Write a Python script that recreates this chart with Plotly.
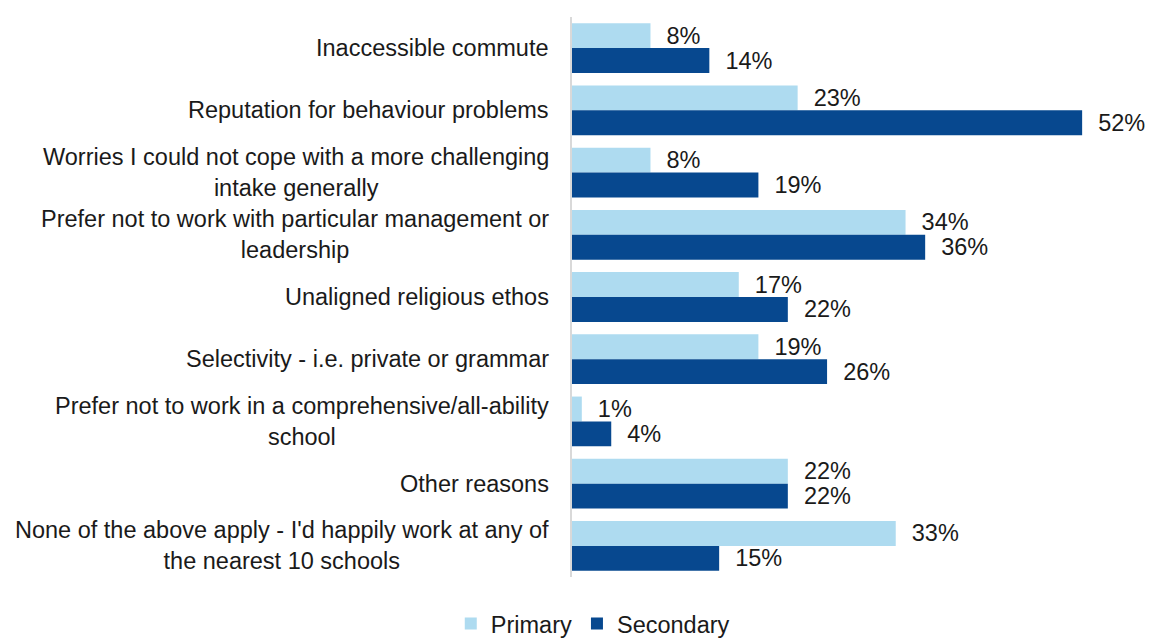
import plotly.graph_objects as go

# Reasons for not wanting to work at nearby schools (share of respondents, %)
categories = [
    "Inaccessible commute",
    "Reputation for behaviour problems",
    "Worries I could not cope with a more challenging<br>intake generally",
    "Prefer not to work with particular management or<br>leadership",
    "Unaligned religious ethos",
    "Selectivity - i.e. private or grammar",
    "Prefer not to work in a comprehensive/all-ability<br>school",
    "Other reasons",
    "None of the above apply - I'd happily work at any of<br>the nearest 10 schools",
]
primary = [8, 23, 8, 34, 17, 19, 1, 22, 33]
secondary = [14, 52, 19, 36, 22, 26, 4, 22, 15]

FONT = "Liberation Sans, Arial, sans-serif"
FONT_SIZE = 23.5
TEXT_COLOR = "#1a1a1a"
NBSP = "\u00a0"

fig = go.Figure()
for name, values, color in [
    ("Primary", primary, "#AEDBF0"),
    ("Secondary", secondary, "#07488F"),
]:
    fig.add_trace(go.Bar(
        name=name,
        y=categories,
        x=values,
        orientation="h",
        marker=dict(color=color, line=dict(width=0)),
        text=[f"{NBSP * 2}{v}%" for v in values],
        textposition="outside",
        constraintext="none",
        cliponaxis=False,
        textfont=dict(family=FONT, size=FONT_SIZE, color=TEXT_COLOR),
        hoverinfo="skip",
    ))

# Category labels, centred line by line and right-aligned against the axis
for cat in categories:
    fig.add_annotation(
        x=0, xref="paper", xanchor="right", xshift=-21,
        y=cat, yref="y", yanchor="middle",
        text=cat, showarrow=False, align="center",
        font=dict(family=FONT, size=FONT_SIZE, color=TEXT_COLOR),
    )

fig.update_layout(
    width=1151, height=639,
    margin=dict(l=572, r=10, t=17, b=62),
    barmode="group",
    bargap=0.2,
    bargroupgap=0,
    plot_bgcolor="white",
    paper_bgcolor="white",
    font=dict(family=FONT, size=FONT_SIZE, color=TEXT_COLOR),
    showlegend=True,
    legend=dict(
        orientation="h",
        xref="container", yref="container",
        x=0.515, xanchor="center",
        y=0.024, yanchor="middle",
        font=dict(family=FONT, size=FONT_SIZE, color=TEXT_COLOR),
        itemwidth=30,
        tracegroupgap=0,
    ),
    xaxis=dict(
        range=[0, 58],
        showgrid=False, zeroline=False, showticklabels=False,
        showline=False, ticks="",
    ),
    yaxis=dict(
        autorange="reversed",
        showgrid=False, zeroline=False,
        showticklabels=False, ticks="",
        showline=True, linecolor="#d9d9d9", linewidth=2,
    ),
)

fig.write_html("out.html")
